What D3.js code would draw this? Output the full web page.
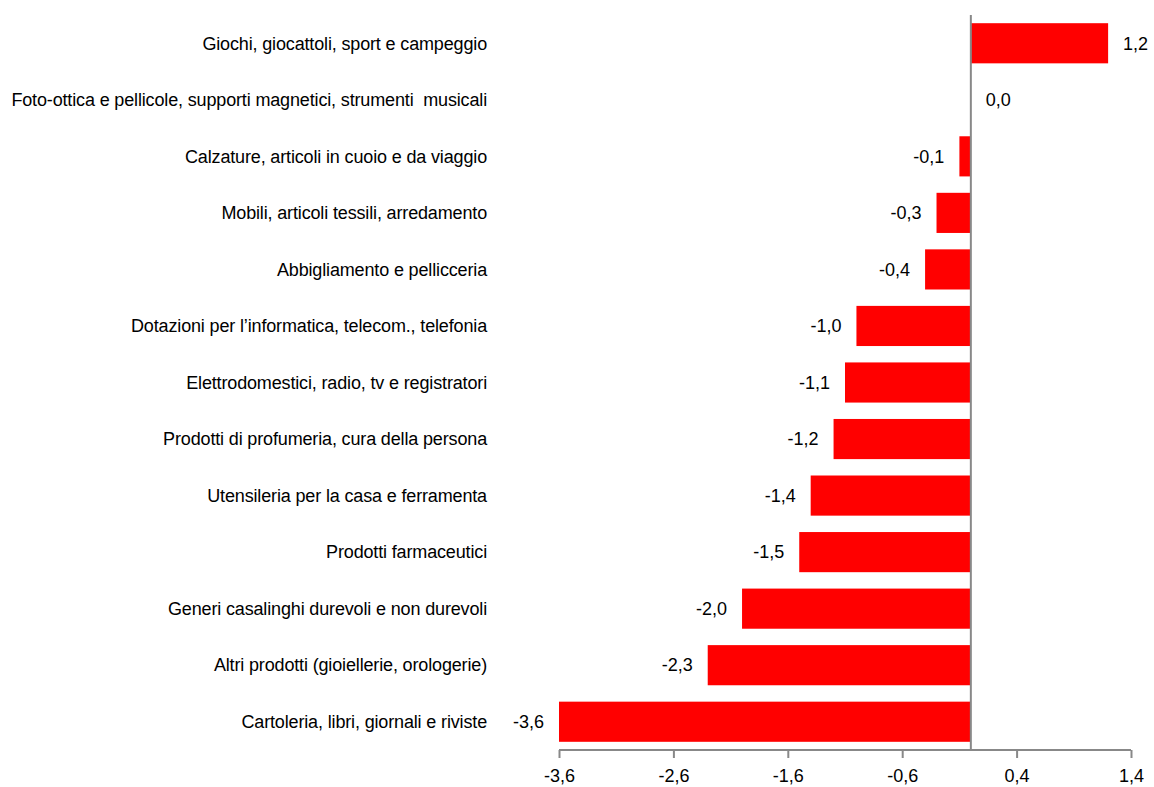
<!DOCTYPE html>
<html>
<head>
<meta charset="utf-8">
<script src="https://cdn.jsdelivr.net/npm/d3@7"></script>
<style>
  body { margin: 0; background: #fff; }
  text { font-family: "Liberation Sans", Arial, sans-serif; fill: #000; }
</style>
</head>
<body>
<div id="chart"></div>
<script>
// categories, top to bottom
var categories = [
  "Giochi, giocattoli, sport e campeggio",
  "Foto-ottica e pellicole, supporti magnetici, strumenti  musicali",
  "Calzature, articoli in cuoio e da viaggio",
  "Mobili, articoli tessili, arredamento",
  "Abbigliamento e pellicceria",
  "Dotazioni per l\u2019informatica, telecom., telefonia",
  "Elettrodomestici, radio, tv e registratori",
  "Prodotti di profumeria, cura della persona",
  "Utensileria per la casa e ferramenta",
  "Prodotti farmaceutici",
  "Generi casalinghi durevoli e non durevoli",
  "Altri prodotti (gioiellerie, orologerie)",
  "Cartoleria, libri, giornali e riviste"
]
var values = [1.2, 0.0, -0.1, -0.3, -0.4, -1.0, -1.1, -1.2, -1.4, -1.5, -2.0, -2.3, -3.6]
var tickValues = [-3.6, -2.6, -1.6, -0.6, 0.4, 1.4]

var width = 1154, height = 787
var margin = {top: 15, right: 23, bottom: 37, left: 559}

var svg = d3.select("#chart").append("svg")
    .attr("width", width)
    .attr("height", height)

var x = d3.scaleLinear()
    .domain([-3.6, 1.4])
    .range([margin.left, width - margin.right])

var y = d3.scaleBand()
    .domain(categories)
    .range([margin.top, height - margin.bottom])
    .paddingInner(0.29)
    .paddingOuter(0.145)

var fmt = function(v){ return d3.format(".1f")(v).replace(".", ",").replace("\u2212", "-") }

var data = categories.map(function(c, i){ return {name: c, value: values[i]} })

// bars
svg.selectAll("rect.bar").data(data).enter().append("rect")
    .attr("class", "bar")
    .attr("x", function(d){ return x(Math.min(0, d.value)) })
    .attr("y", function(d){ return y(d.name) })
    .attr("width", function(d){ return Math.abs(x(d.value) - x(0)) })
    .attr("height", y.bandwidth())
    .attr("fill", "#ff0000")

// category labels
svg.selectAll("text.cat").data(data).enter().append("text")
    .attr("class", "cat")
    .attr("x", 487)
    .attr("y", function(d){ return y(d.name) + y.bandwidth() / 2 })
    .attr("dy", "0.35em")
    .attr("text-anchor", "end")
    .style("font-size", "18px")
    .style("letter-spacing", "-0.15px")
    .style("white-space", "pre")
    .text(function(d){ return d.name })

// value labels
svg.selectAll("text.val").data(data).enter().append("text")
    .attr("class", "val")
    .attr("x", function(d){ return d.value < 0 ? x(d.value) - 15 : x(d.value) + 15 })
    .attr("y", function(d){ return y(d.name) + y.bandwidth() / 2 })
    .attr("dy", "0.35em")
    .attr("text-anchor", function(d){ return d.value < 0 ? "end" : "start" })
    .style("font-size", "18px")
    .text(function(d){ return fmt(d.value) })

// x axis
var axis = d3.axisBottom(x)
    .tickValues(tickValues)
    .tickSize(8)
    .tickFormat(fmt)

var gx = svg.append("g")
    .attr("transform", "translate(0," + (height - margin.bottom) + ")")
    .call(axis)
gx.select(".domain").attr("stroke", "#888").attr("stroke-width", 2).attr("d", "M" + x(-3.6) + ",0H" + x(1.4))
gx.selectAll(".tick line").attr("stroke", "#888").attr("stroke-width", 2)
gx.selectAll(".tick text")
    .attr("y", 19)
    .style("font-size", "18px")
    .style("font-family", "Liberation Sans, Arial, sans-serif")
    .attr("fill", "#000")

// zero line
svg.append("line")
    .attr("x1", x(0)).attr("x2", x(0))
    .attr("y1", margin.top).attr("y2", height - margin.bottom)
    .attr("stroke", "#888")
    .attr("stroke-width", 2)
</script>
</body>
</html>
